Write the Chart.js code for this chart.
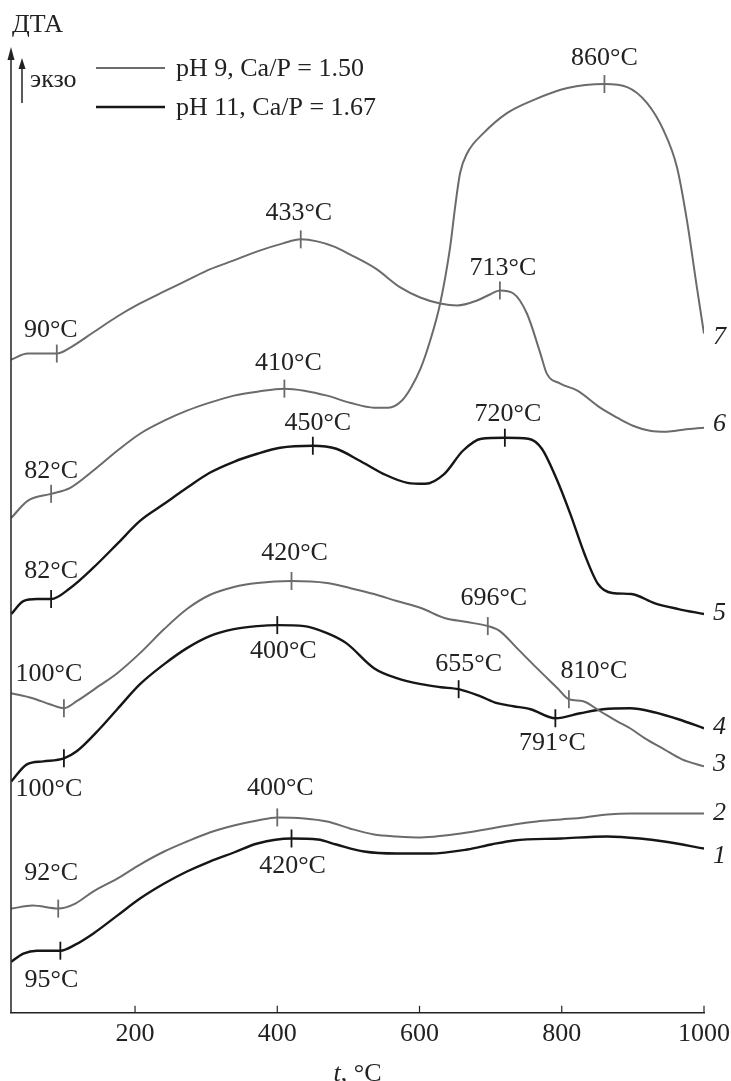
<!DOCTYPE html>
<html>
<head>
<meta charset="utf-8">
<script src="https://cdn.jsdelivr.net/npm/chart.js@4.4.1/dist/chart.umd.min.js"></script>
<style>
  html, body { margin: 0; padding: 0; background: #fff; }
  #wrap { width: 731px; height: 1081px; position: relative; }
</style>
</head>
<body>
<div id="wrap"><canvas id="dta-chart"></canvas></div>
<script>
// temperatures, °C
const t1 = [26, 43, 62, 95, 116, 141, 175, 207, 241, 273, 305, 339, 372, 420, 457, 483, 522, 568, 615, 667, 701, 733, 799, 864, 910, 944, 1000];
const t2 = [26, 56, 92, 116, 141, 175, 207, 241, 273, 305, 339, 372, 400, 438, 470, 502, 536, 568, 602, 635, 667, 701, 733, 765, 799, 832, 864, 898, 930, 964, 1000];
const t3 = [26, 56, 80, 100, 118, 151, 175, 207, 241, 273, 305, 339, 372, 420, 470, 502, 536, 568, 602, 635, 667, 696, 713, 737, 765, 794, 810, 830, 854, 878, 896, 917, 944, 969, 1000];
const t4 = [26, 48, 71, 100, 118, 151, 175, 207, 241, 273, 305, 339, 372, 400, 438, 470, 497, 536, 568, 602, 630, 655, 685, 709, 732, 756, 791, 826, 858, 896, 930, 964, 1000];
const t5 = [26, 43, 62, 82, 109, 141, 175, 207, 241, 273, 305, 339, 372, 404, 450, 483, 516, 549, 583, 608, 635, 661, 687, 720, 753, 772, 792, 812, 832, 851, 871, 898, 930, 964, 1000];
const t6 = [26, 49, 90, 109, 141, 175, 207, 241, 273, 305, 339, 372, 408, 433, 456, 479, 502, 538, 573, 601, 629, 653, 681, 699, 713, 732, 751, 770, 779, 798, 822, 854, 878, 900, 924, 948, 971, 1000];
const t7 = [26, 49, 82, 109, 141, 175, 207, 241, 273, 305, 339, 372, 410, 438, 470, 502, 536, 556, 575, 588, 602, 615, 629, 643, 650, 657, 667, 690, 723, 760, 808, 860, 892, 920, 943, 962, 976, 990, 1000];

// DTA signal (arbitrary units, curves shifted vertically)
const dta1 = [51, 59, 62, 62, 68, 79, 97, 114, 129, 141, 151, 160, 169, 174, 173, 168, 161, 159, 159, 163, 168, 172, 174, 176, 174, 171, 164];
const dta2 = [104, 107, 104, 109, 121, 134, 148, 161, 171, 180, 187, 192, 195, 194, 191, 184, 178, 176, 175, 177, 180, 184, 188, 191, 193, 195, 198, 199, 199, 199, 199];
const dta3 = [319, 314, 308, 304, 311, 327, 339, 359, 383, 403, 417, 425, 429, 431, 429, 424, 418, 411, 404, 394, 390, 386, 381, 364, 344, 324, 313, 311, 301, 291, 284, 274, 263, 253, 246];
const dta4 = [231, 248, 251, 254, 261, 284, 303, 328, 348, 364, 376, 383, 386, 387, 386, 379, 369, 344, 334, 328, 325, 323, 316, 309, 306, 303, 294, 299, 303, 304, 300, 293, 284];
const dta5 = [398, 411, 413, 413, 424, 444, 468, 491, 508, 524, 539, 550, 558, 564, 566, 563, 551, 538, 529, 528, 538, 561, 573, 574, 573, 563, 534, 498, 458, 428, 419, 418, 409, 403, 398];
const dta6 = [652, 658, 658, 664, 679, 695, 708, 720, 731, 742, 751, 760, 768, 772, 770, 765, 757, 743, 724, 714, 708, 706, 711, 717, 721, 718, 698, 658, 638, 628, 621, 604, 594, 586, 581, 580, 582, 584];
const dta7 = [494, 511, 518, 524, 541, 561, 578, 591, 601, 609, 616, 620, 623, 621, 616, 609, 604, 604, 611, 624, 644, 671, 708, 764, 804, 838, 858, 878, 898, 911, 923, 927, 924, 908, 881, 844, 791, 724, 678];

// marked temperatures on each curve
const peaks1 = [95, 420];
const peaks2 = [92, 400];
const peaks3 = [100, 420, 696, 810];
const peaks4 = [100, 400, 655, 791];
const peaks5 = [82, 450, 720];
const peaks6 = [90, 433, 713];
const peaks7 = [82, 410, 860];

const xTicks = [200, 400, 600, 800, 1000];
const curveNames = ['1', '2', '3', '4', '5', '6', '7'];
const legendLabels = ['pH 9, Ca/P = 1.50', 'pH 11, Ca/P = 1.67'];

const GRAY = '#6b6b6b';
const BLACK = '#161616';
const INK = '#222';
const SERIF = '"Liberation Serif", "DejaVu Serif", serif';

// label placement relative to marked point [dx, dy]
const peakOffsets = [
  [[-9, 29], [1, 28]],
  [[-7, -35], [3, -29]],
  [[-15, -34], [3, -28], [6, -28], [25, -28]],
  [[-15, 31], [6, 26], [10, -25], [-3, 25]],
  [[0, -28], [5, -23], [3, -24]],
  [[-6, -23], [-2, -26], [3, -22]],
  [[0, -23], [4, -25], [0, -26]]
];
const endOffsets = [8, 0, -2, -1, -1, -4, 4];

const allT = [t1, t2, t3, t4, t5, t6, t7];
const allY = [dta1, dta2, dta3, dta4, dta5, dta6, dta7];
const allPeaks = [peaks1, peaks2, peaks3, peaks4, peaks5, peaks6, peaks7];
const curveColors = [BLACK, GRAY, GRAY, BLACK, BLACK, GRAY, GRAY];

const datasets = allT.map((ts, i) => ({
  label: curveNames[i],
  data: ts.map((t, j) => ({ x: t, y: allY[i][j] })),
  borderColor: curveColors[i],
  borderWidth: curveColors[i] === BLACK ? 2.4 : 2,
  pointRadius: 0,
  fill: false,
  cubicInterpolationMode: 'monotone'
}));

function arrowUp(ctx, x, yTip, len, half) {
  ctx.beginPath();
  ctx.moveTo(x, yTip);
  ctx.lineTo(x - half, yTip + len);
  ctx.lineTo(x + half, yTip + len);
  ctx.closePath();
  ctx.fill();
}

const decorPlugin = {
  id: 'decor',
  afterDatasetsDraw(chart) {
    const { ctx, chartArea: a, scales: { x } } = chart;
    ctx.save();

    // y axis with arrow
    ctx.strokeStyle = INK;
    ctx.fillStyle = INK;
    ctx.lineWidth = 1.5;
    ctx.beginPath();
    ctx.moveTo(a.left, a.bottom);
    ctx.lineTo(a.left, a.top + 6);
    ctx.stroke();
    arrowUp(ctx, a.left, a.top, 13, 3.5);

    // x ticks pointing inward
    ctx.lineWidth = 1.2;
    xTicks.forEach(v => {
      const px = x.getPixelForValue(v);
      ctx.beginPath();
      ctx.moveTo(px, a.bottom);
      ctx.lineTo(px, a.bottom - 7);
      ctx.stroke();
    });

    // axis title: t, °C
    ctx.font = 'italic 26px ' + SERIF;
    const wT = ctx.measureText('t').width;
    ctx.font = '26px ' + SERIF;
    const wRest = ctx.measureText(', °C').width;
    const cx = (a.left + a.right) / 2;
    const ty = a.bottom + 61;
    ctx.textBaseline = 'middle';
    ctx.textAlign = 'left';
    ctx.font = 'italic 26px ' + SERIF;
    ctx.fillText('t', cx - (wT + wRest) / 2, ty);
    ctx.font = '26px ' + SERIF;
    ctx.fillText(', °C', cx - (wT + wRest) / 2 + wT, ty);

    // ДТА / экзо
    ctx.fillText('ДТА', a.left + 1, a.top - 22);
    ctx.fillText('экзо', a.left + 19, a.top + 33);
    ctx.lineWidth = 1.5;
    ctx.beginPath();
    ctx.moveTo(a.left + 11, a.top + 56);
    ctx.lineTo(a.left + 11, a.top + 16);
    ctx.stroke();
    arrowUp(ctx, a.left + 11, a.top + 11, 11, 3.5);

    // legend
    const legendColors = [GRAY, BLACK];
    legendLabels.forEach((txt, i) => {
      const ly = a.top + 21 + i * 39;
      ctx.strokeStyle = legendColors[i];
      ctx.lineWidth = legendColors[i] === BLACK ? 2.4 : 2;
      ctx.beginPath();
      ctx.moveTo(a.left + 85, ly);
      ctx.lineTo(a.left + 154, ly);
      ctx.stroke();
      ctx.fillStyle = INK;
      ctx.font = '26px ' + SERIF;
      ctx.textAlign = 'left';
      ctx.fillText(txt, a.left + 165, ly + 1);
    });

    // peak marks and labels
    chart.data.datasets.forEach((ds, i) => {
      const meta = chart.getDatasetMeta(i);
      allPeaks[i].forEach((t, k) => {
        const j = ds.data.findIndex(p => p.x === t);
        if (j < 0) return;
        const pt = meta.data[j];
        ctx.strokeStyle = ds.borderColor;
        ctx.lineWidth = 1.8;
        ctx.beginPath();
        ctx.moveTo(pt.x, pt.y - 9);
        ctx.lineTo(pt.x, pt.y + 9);
        ctx.stroke();
        const off = peakOffsets[i][k];
        ctx.fillStyle = INK;
        ctx.font = '26px ' + SERIF;
        ctx.textAlign = 'center';
        ctx.fillText(t + '°C', pt.x + off[0], pt.y + off[1]);
      });

      // curve number at the right end
      const last = meta.data[meta.data.length - 1];
      ctx.font = 'italic 26px ' + SERIF;
      ctx.textAlign = 'left';
      ctx.fillText(ds.label, last.x + 9, last.y + endOffsets[i]);
    });

    ctx.restore();
  }
};

const ctx = document.getElementById('dta-chart').getContext('2d');
new Chart(ctx, {
  type: 'line',
  data: { datasets: datasets },
  options: {
    responsive: true,
    maintainAspectRatio: false,
    animation: false,
    layout: { padding: { left: 11, right: 27, top: 47, bottom: 25 } },
    plugins: {
      legend: { display: false },
      tooltip: { enabled: false }
    },
    scales: {
      x: {
        type: 'linear',
        min: 25.6,
        max: 1000,
        afterBuildTicks: scale => { scale.ticks = xTicks.map(v => ({ value: v })); },
        afterFit: scale => { scale.paddingLeft = 0; scale.paddingRight = 0; },
        grid: { display: false, drawTicks: false },
        border: { display: true, color: INK, width: 1.5 },
        ticks: {
          color: INK,
          padding: 6,
          maxRotation: 0,
          font: { family: SERIF, size: 26 },
          callback: v => String(v)
        }
      },
      y: {
        display: false,
        min: 0,
        max: 964
      }
    }
  },
  plugins: [decorPlugin]
});
</script>
</body>
</html>
